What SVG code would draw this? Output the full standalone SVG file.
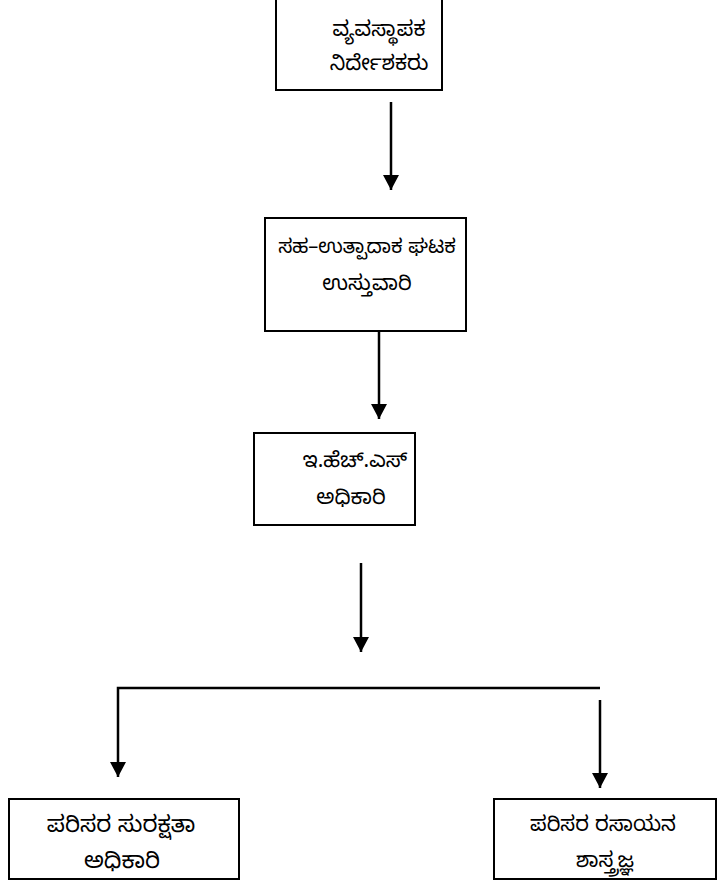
<svg xmlns="http://www.w3.org/2000/svg" width="717" height="894" viewBox="0 0 717 894">
<defs>
<marker id="ah" markerWidth="16" markerHeight="16" viewBox="0 0 16 16" refX="15" refY="8" orient="auto" markerUnits="userSpaceOnUse">
<path d="M0,0 L15,8 L0,16 Z" fill="#000"/>
</marker>
<style>
.box{fill:#fff;stroke:#000;stroke-width:2}
.t{font-family:"Noto Sans Kannada","Noto Sans","DejaVu Sans",sans-serif;font-size:21px;fill:#000;text-anchor:middle}
.b{font-size:23px}
.c{stroke:#000;stroke-width:2.5;fill:none}
</style>
</defs>
<rect width="717" height="894" fill="#fff"/>
<g id="n1"><rect class="box" x="276" y="-2" width="166" height="92"/><text class="t" x="379" y="36">ವ್ಯವಸ್ಥಾಪಕ</text><text class="t" x="379" y="70">ನಿರ್ದೇಶಕರು</text></g>
<g id="n2"><rect class="box" x="265" y="218" width="201" height="113"/><text class="t" x="367" y="253" style="font-size:20px">ಸಹ–ಉತ್ಪಾದಾಕ ಘಟಕ</text><text class="t" x="367" y="290">ಉಸ್ತುವಾರಿ</text></g>
<g id="n3"><rect class="box" x="254" y="433" width="161" height="92"/><text class="t" x="355" y="467">ಇ.ಹೆಚ್.ಎಸ್</text><text class="t" x="351" y="504">ಅಧಿಕಾರಿ</text></g>
<g id="n4"><rect class="box" x="9" y="799" width="230" height="80"/><text class="t b" x="121" y="832">ಪರಿಸರ   ಸುರಕ್ಷತಾ</text><text class="t b" x="122" y="868">ಅಧಿಕಾರಿ</text></g>
<g id="n5"><rect class="box" x="494" y="799" width="222" height="80"/><text class="t" x="603" y="831">ಪರಿಸರ  ರಸಾಯನ</text><text class="t" x="605" y="867">ಶಾಸ್ತ್ರಜ್ಞ</text></g>
<g id="connectors">
<line class="c" x1="391" y1="102" x2="391" y2="190" marker-end="url(#ah)"/>
<line class="c" x1="379" y1="331" x2="379" y2="419" marker-end="url(#ah)"/>
<line class="c" x1="361" y1="563" x2="361" y2="652" marker-end="url(#ah)"/>
<polyline class="c" points="600,688 118,688 118,777" marker-end="url(#ah)"/>
<line class="c" x1="600" y1="700" x2="600" y2="788" marker-end="url(#ah)"/>
</g>
</svg>
